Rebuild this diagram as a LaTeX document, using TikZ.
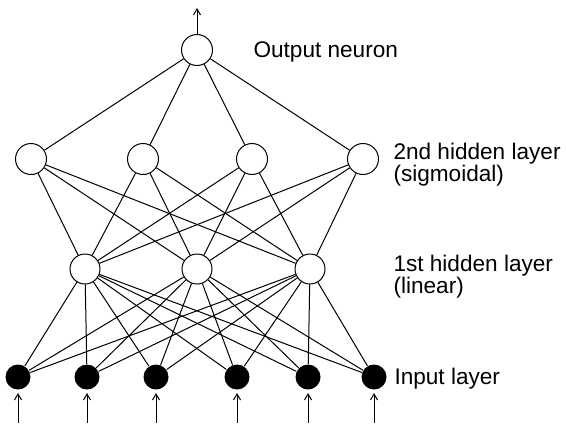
\documentclass[tikz,border=0pt]{standalone}
\usepackage{fontspec}
\setmainfont{Liberation Sans}
\usepackage{tikz}
\usetikzlibrary{arrows.meta}

\begin{document}
\begin{tikzpicture}[x=0.5pt, y=-0.5pt, line width=0.5pt,
  neuron/.style={draw, circle, minimum size=15.5pt, inner sep=0pt, fill=white},
  inputunit/.style={circle, fill=black, minimum size=12.5pt, inner sep=0pt},
  lbl/.style={anchor=base west, inner sep=0pt, align=left,
    font=\fontsize{11.3}{10.5}\selectfont},
  >={Straight Barb[length=3pt,width=3.5pt]}]
  \useasboundingbox (0,0) rectangle (566,423);
  % neurons
  \node[neuron] (out) at (197,50) {};
  \foreach \x [count=\i] in {31,143,252,363}
    \node[neuron] (hb\i) at (\x,159) {};
  \foreach \x [count=\i] in {85,197,310}
    \node[neuron, minimum size=15pt] (ha\i) at (\x,269) {};
  \foreach \x [count=\i] in {18,87,156,237,308,374} {
    \node[inputunit] (in\i) at (\x,377) {};
    \coordinate (src\i) at (\x,423);
  }
  \coordinate (top) at (197,8);
  % connections
  \foreach \j in {1,...,4}
    \draw (out) -- (hb\j);
  \foreach \j in {1,...,4}
    \foreach \k in {1,...,3}
      \draw (hb\j) -- (ha\k);
  \foreach \k in {1,...,3}
    \foreach \m in {1,...,6}
      \draw (ha\k) -- (in\m);
  % in- and output arrows
  \draw[->] (out) -- (top);
  \foreach \m in {1,...,6}
    \draw[->, shorten >=1.5pt] (src\m) -- (in\m);
  % labels
  \node[lbl] (outlbl) at (253,57) {Output neuron};
  \node[lbl] (hblbl) at (393,181) {2nd hidden layer\\[-0.8pt](sigmoidal)};
  \node[lbl] (halbl) at (393,293) {1st hidden layer\\[-0.8pt](linear)};
  \node[lbl] (inlbl) at (394,384) {Input layer};
\end{tikzpicture}
\end{document}
